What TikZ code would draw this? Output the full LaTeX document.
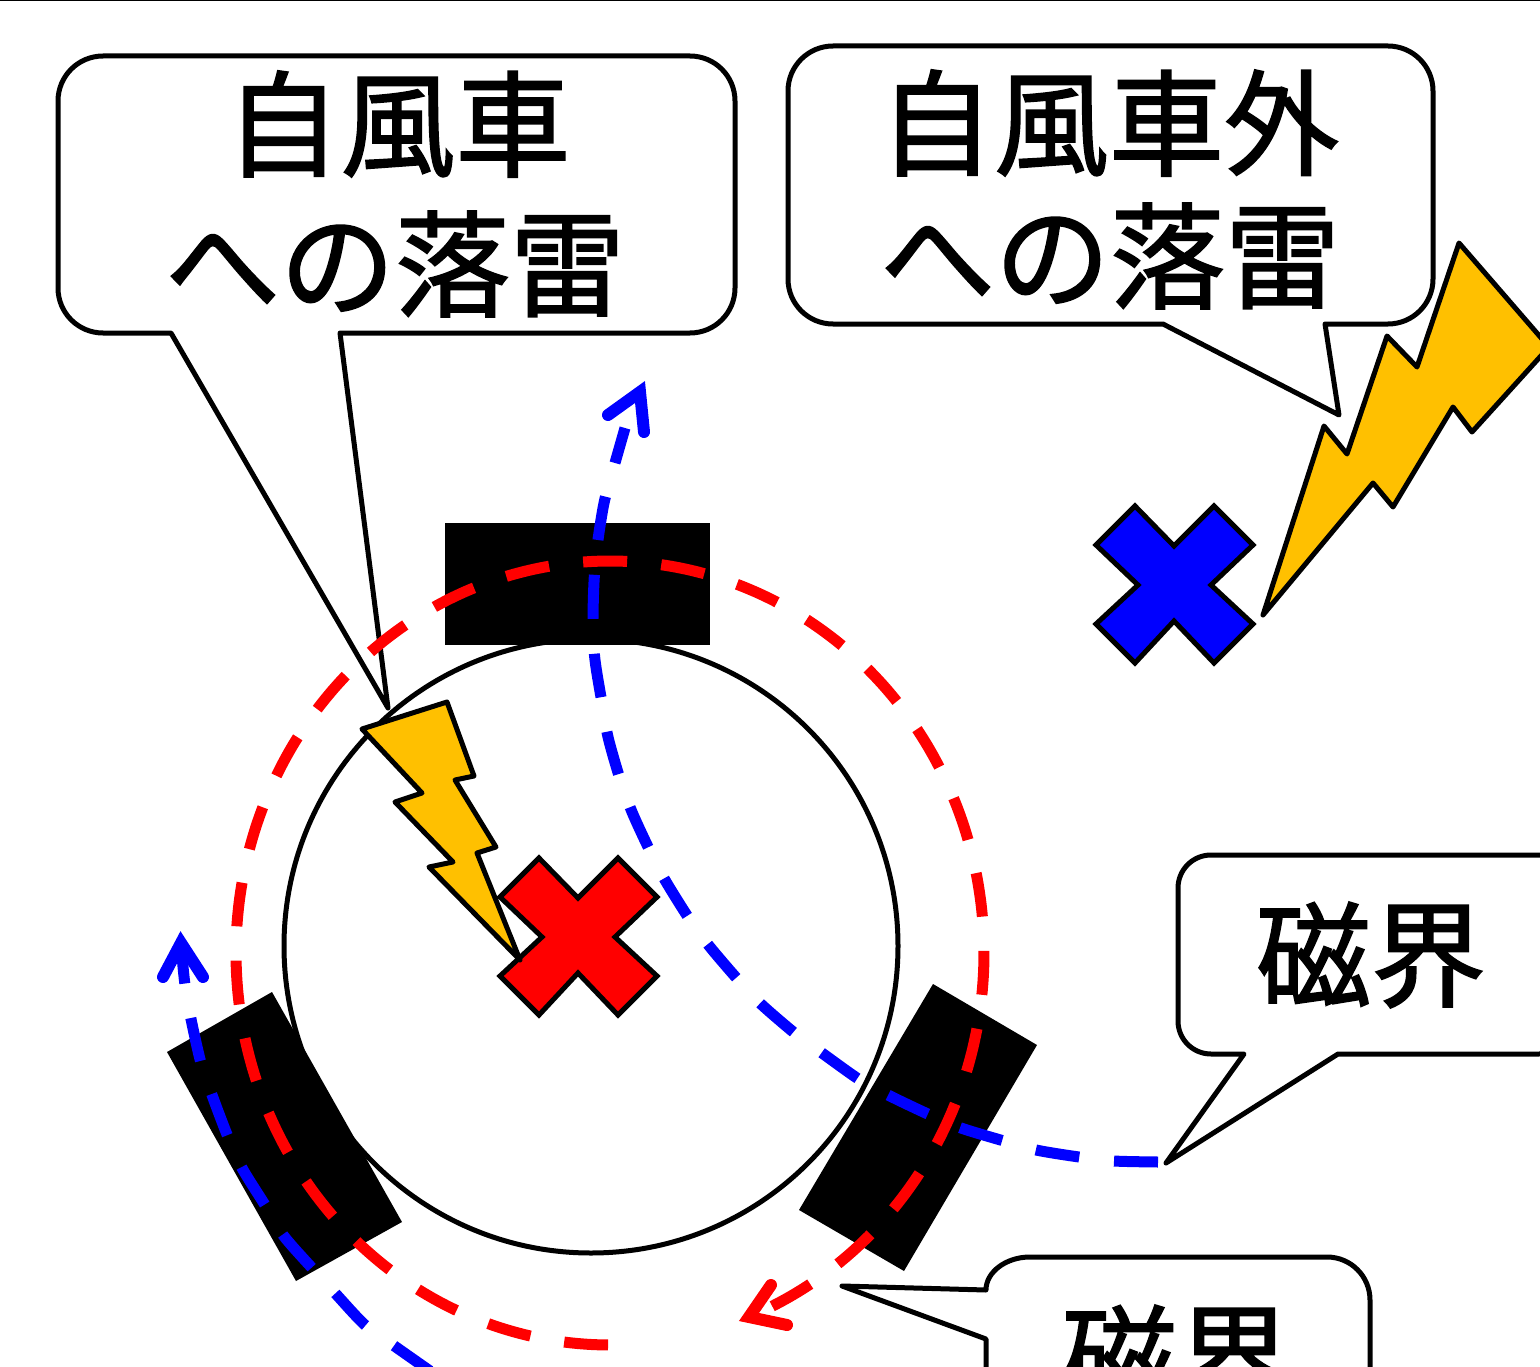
\documentclass[tikz,border=0pt]{standalone}
\usepackage{fontspec}
\setmainfont[FakeBold=1.5]{Noto Sans CJK JP}
\tikzset{
  outline/.style={draw=black,line width=5pt},
  callout/.style={outline,fill=white,line join=round},
  calltext/.style={font=\fontsize{115}{136}\selectfont,inner sep=0pt,text=black,anchor=center},
  magnet/.style={fill=black,draw=none},
  bolt/.style={outline,fill=boltyellow,line join=round},
  cross/.style={outline,miter limit=10},
  fieldline/.style={line width=11pt,line cap=butt,dash pattern=on 44pt off 35pt},
  ringline/.style={line width=11pt,line cap=butt,dash pattern=on 44pt off 34.3pt},
  fieldhead/.style={line width=12pt,line cap=round,line join=miter,miter limit=10},
}
\definecolor{boltyellow}{RGB}{255,192,0}
\begin{document}
\begin{tikzpicture}[x=1pt,y=-1pt]
\useasboundingbox (0,0) rectangle (1540,1367);
\clip (0,0) rectangle (1540,1367);
\fill[white] (0,0) rectangle (1540,1367);
\draw[black,line width=2pt] (0,0.5) -- (1540,0.5);

% rotor and magnets
\draw[outline] (591,946) circle (307);
\fill[magnet] (445,523) rectangle (710,645);
\fill[magnet] (272,992) -- (167,1052) -- (296,1281) -- (402,1222) -- cycle;
\fill[magnet] (933,984) -- (1037,1045) -- (904,1271) -- (799,1210) -- cycle;

% callouts
\draw[callout] (388,708) -- (171,333) [rounded corners=45pt] -- (58,333) -- (58,56) -- (735,56) -- (735,333) [sharp corners] -- (340,333) -- cycle;
\node[calltext] (t1a) at (398,124) {自風車};
\node[calltext] (t1b) at (395,264) {への落雷};

\draw[callout] (1339,415) -- (1163,324) [rounded corners=45pt] -- (788,324) -- (788,46) -- (1433,46) -- (1433,324) [sharp corners] -- (1325,324) -- cycle;
\node[calltext] (t2a) at (1109,123) {自風車外};
\node[calltext] (t2b) at (1110,256) {への落雷};

\draw[callout] (1166,1163) -- (1244,1054) [rounded corners=33pt] -- (1178,1054) -- (1178,855) -- (1572,855) -- (1572,1054) [sharp corners] -- (1338,1054) -- cycle;
\node[calltext] (t3) at (1371,955) {磁界};

\draw[callout] (842,1286) -- (986,1339) -- (986,1420) -- (1370,1420) [rounded corners=43pt] -- (1370,1257) [sharp corners] -- (1030,1257) .. controls (1006,1257) and (986,1272) .. (986,1290) -- cycle;
\node[calltext] (t4) at (1177,1358) {磁界};

% magnetic field lines
\draw[fieldline,blue] plot[smooth,tension=0.5] coordinates {
 (1158,1162)(1114,1161)(1079,1157)(1036,1150)(1004,1141)(961,1128)(930,1115)(890,1096)
 (860,1080)(822,1053)(797,1035)(762,1005)(740,982)(710,947)(690,920)(665,880)(650,851)
 (632,812)(620,779)(608,737)(602,703)(595,660)(593,625)(594,582)(597,547)(604,503)(613,470)(625,428)};
\coordinate (bh1a) at (608,415); \coordinate (bh1t) at (640,392); \coordinate (bh1b) at (644,432);
\draw[fieldhead,blue] (bh1a) -- (bh1t) -- (bh1b);

\draw[fieldline,blue] plot[smooth,tension=0.5] coordinates {
 (430,1371)(393,1345)(365,1325)(335,1293)(312,1268)(283,1235)(265,1205)(242,1168)(228,1137)
 (212,1095)(201,1063)(191,1019)(185,985)(181,945)};
\coordinate (bh2a) at (163,977); \coordinate (bh2t) at (181,943); \coordinate (bh2b) at (203,977);
\draw[fieldhead,blue] (bh2a) -- (bh2t) -- (bh2b);

\draw[ringline,red] plot[smooth,domain=90.3:424.5,samples=240,variable=\a]
  ({610+374*cos(\a)},{953+392*sin(\a)});
\coordinate (rha) at (771,1285); \coordinate (rht) at (749,1317); \coordinate (rhb) at (787,1325);
\draw[fieldhead,red] (rha) -- (rht) -- (rhb);

% crosses
\draw[cross,fill=red] (539,858) -- (578,898) -- (618,858) -- (657,897) -- (615,937) -- (657,976)
  -- (618,1015) -- (578,973) -- (539,1015) -- (500,976) -- (542,937) -- (500,897) -- cycle;
\begin{scope}[xshift=596pt,yshift=352pt]
\draw[cross,fill=blue] (539,858) -- (578,898) -- (618,858) -- (657,897) -- (615,937) -- (657,976)
  -- (618,1015) -- (578,973) -- (539,1015) -- (500,976) -- (542,937) -- (500,897) -- cycle;
\end{scope}

% lightning bolts
\draw[bolt] (362,729) -- (447,702) -- (474,776) -- (455,780) -- (496,847) -- (477,853) -- (520,960)
  -- (429,867) -- (453,862) -- (395,802) -- (422,793) -- cycle;
\draw[bolt] (1459,243) -- (1549,347) -- (1472,432) -- (1453,407) -- (1393,507) -- (1373,483)
  -- (1263,615) -- (1324,426) -- (1347,454) -- (1387,336) -- (1417,367) -- cycle;
\end{tikzpicture}
\end{document}
